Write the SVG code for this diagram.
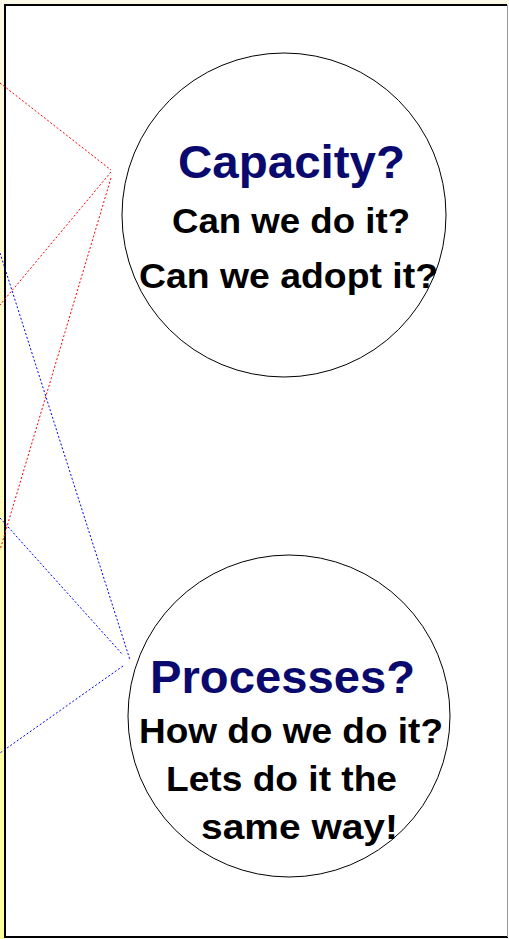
<svg xmlns="http://www.w3.org/2000/svg" width="509" height="939" viewBox="0 0 509 939">
  <defs>
    <linearGradient id="strip" x1="0" y1="0" x2="0" y2="1">
      <stop offset="0" stop-color="#fdf8e6"/>
      <stop offset="1" stop-color="#ffff99"/>
    </linearGradient>
    <style>
      .red { stroke: #ff0000; stroke-width: 1; stroke-dasharray: 2,2; fill: none; }
      .blue { stroke: #0000ff; stroke-width: 1; stroke-dasharray: 2,2; fill: none; }
      .circ { fill: #ffffff; stroke: #000000; stroke-width: 1; }
      .title { font-family: "Liberation Sans", Arial, sans-serif; font-weight: bold; fill: #0a0a6e; }
      .body { font-family: "Liberation Sans", Arial, sans-serif; font-weight: bold; fill: #000000; }
    </style>
  </defs>
  <rect x="0" y="0" width="509" height="939" fill="#ffffff"/>
  <rect x="0" y="0" width="509" height="4" fill="#fdf9e8"/>
  <rect x="0" y="0" width="4" height="939" fill="url(#strip)"/>
  <g id="frame">
    <line x1="4" y1="5" x2="507" y2="5" stroke="#000" stroke-width="2"/>
    <line x1="5" y1="4" x2="5" y2="938" stroke="#000" stroke-width="2"/>
    <line x1="4" y1="937" x2="508" y2="937" stroke="#000" stroke-width="2"/>
    <line x1="507.5" y1="5" x2="507.5" y2="937" stroke="#999" stroke-width="1"/>
  </g>
  <g id="connectors">
    <line class="red" x1="0" y1="83" x2="111" y2="170"/>
    <line class="red" x1="111" y1="172" x2="0" y2="305"/>
    <line class="red" x1="111" y1="178" x2="0" y2="550"/>
    <line class="blue" x1="0" y1="253" x2="130" y2="660"/>
    <line class="blue" x1="0" y1="518" x2="123" y2="655"/>
    <line class="blue" x1="123" y1="666" x2="0" y2="753"/>
  </g>
  <g id="capacity">
    <circle class="circ" cx="284" cy="215" r="162"/>
    <text class="title" x="178" y="178" font-size="47" textLength="227" lengthAdjust="spacingAndGlyphs">Capacity?</text>
    <text class="body" x="172" y="233" font-size="35" textLength="238" lengthAdjust="spacingAndGlyphs">Can we do it?</text>
    <text class="body" x="139" y="288" font-size="35" textLength="299" lengthAdjust="spacingAndGlyphs">Can we adopt it?</text>
  </g>
  <g id="processes">
    <circle class="circ" cx="289" cy="716" r="161"/>
    <text class="title" x="150" y="693" font-size="47" textLength="265" lengthAdjust="spacingAndGlyphs">Processes?</text>
    <text class="body" x="139" y="743" font-size="35" textLength="304" lengthAdjust="spacingAndGlyphs">How do we do it?</text>
    <text class="body" x="166" y="791" font-size="35" textLength="231" lengthAdjust="spacingAndGlyphs">Lets do it the</text>
    <text class="body" x="201" y="839" font-size="35" textLength="197" lengthAdjust="spacingAndGlyphs">same way!</text>
  </g>
</svg>
